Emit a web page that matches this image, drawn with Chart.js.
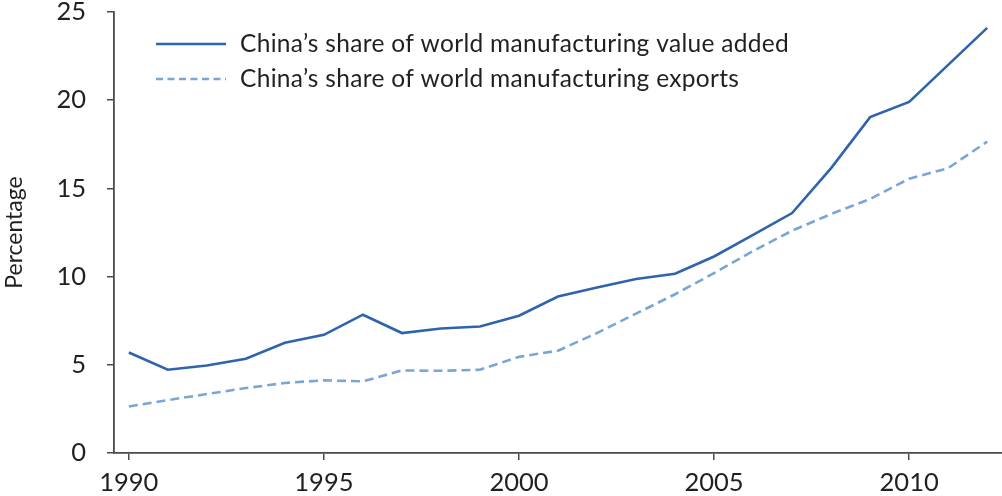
<!DOCTYPE html>
<html>
<head>
<meta charset="utf-8">
<script src="https://cdn.jsdelivr.net/npm/chart.js@4.4.1/dist/chart.umd.min.js"></script>
<style>
  html, body { margin: 0; padding: 0; background: #ffffff; }
  #wrap { position: relative; width: 1002px; height: 496px; }
</style>
</head>
<body>
<div id="wrap"><canvas id="c" width="1002" height="496"></canvas></div>
<script>
const years = [1990, 1991, 1992, 1993, 1994, 1995, 1996, 1997, 1998, 1999, 2000, 2001,
               2002, 2003, 2004, 2005, 2006, 2007, 2008, 2009, 2010, 2011, 2012];
const valueAdded = [5.70, 4.72, 4.96, 5.34, 6.25, 6.70, 7.84, 6.80, 7.06, 7.17, 7.78, 8.87,
                    9.38, 9.86, 10.16, 11.14, 12.37, 13.60, 16.15, 19.04, 19.90, 22.00, 24.10];
const exportsShare = [2.64, 3.00, 3.34, 3.68, 3.97, 4.12, 4.06, 4.68, 4.66, 4.72, 5.45, 5.80,
                      6.80, 7.90, 9.00, 10.20, 11.45, 12.60, 13.55, 14.40, 15.55, 16.15, 17.65];
const seriesLabels = ["China\u2019s share of world manufacturing value added",
                      "China\u2019s share of world manufacturing exports"];
const xTickValues = [1990, 1995, 2000, 2005, 2010];
const yTickValues = [0, 5, 10, 15, 20, 25];
const yAxisTitle = "Percentage";

const FONT = "Lato, 'Liberation Sans', Arial, sans-serif";
const TEXT = "#231f20";
const AXIS = "#4a4a4a";
const SOLID = "#2f64ad";
const DASHED = "#7aa6d6";

const legendPlugin = {
  id: 'insideLegend',
  afterDraw(chart) {
    const ctx = chart.ctx;
    const rows = [44, 79];
    chart.data.datasets.forEach((ds, i) => {
      const y = rows[i];
      ctx.save();
      ctx.strokeStyle = ds.borderColor;
      ctx.lineWidth = ds.borderWidth;
      ctx.setLineDash(i === 1 ? [7, 4.5] : []);
      ctx.beginPath();
      ctx.moveTo(156, y);
      ctx.lineTo(226, y);
      ctx.stroke();
      ctx.setLineDash([]);
      ctx.fillStyle = TEXT;
      ctx.font = "24.5px " + FONT;
      if ('letterSpacing' in ctx) ctx.letterSpacing = '0.3px';
      ctx.textBaseline = 'middle';
      ctx.textAlign = 'left';
      ctx.fillText(ds.label, 240, y);
      ctx.restore();
    });
  }
};

new Chart(document.getElementById('c'), {
  type: 'line',
  data: {
    datasets: [
      {
        label: seriesLabels[0],
        data: years.map((yr, i) => ({ x: yr, y: valueAdded[i] })),
        borderColor: SOLID,
        borderWidth: 2.6,
        pointRadius: 0,
        tension: 0,
        fill: false
      },
      {
        label: seriesLabels[1],
        data: years.map((yr, i) => ({ x: yr, y: exportsShare[i] })),
        borderColor: DASHED,
        borderWidth: 2.6,
        borderDash: [9, 5],
        pointRadius: 0,
        tension: 0,
        fill: false
      }
    ]
  },
  options: {
    responsive: false,
    animation: false,
    devicePixelRatio: 1,
    layout: { padding: { top: 12, right: 0, left: 0, bottom: 0 } },
    plugins: { legend: { display: false }, tooltip: { enabled: false } },
    scales: {
      x: {
        type: 'linear',
        min: 1989.62,
        max: 2012.38,
        afterBuildTicks: s => { s.ticks = xTickValues.map(v => ({ value: v })); },
        afterFit: s => { s.height = 43; s.paddingLeft = 0; s.paddingRight = 0; },
        grid: { display: true, drawOnChartArea: false, drawTicks: true, tickLength: 7, color: AXIS, lineWidth: 1.5 },
        border: { display: true, color: AXIS, width: 1.8 },
        ticks: { color: TEXT, font: { family: FONT, size: 25.5 }, padding: 7, maxRotation: 0,
                 callback: v => String(v) }
      },
      y: {
        type: 'linear',
        min: 0,
        max: 25,
        afterBuildTicks: s => { s.ticks = yTickValues.map(v => ({ value: v })); },
        afterFit: s => { s.width = 114; s.paddingTop = 0; s.paddingBottom = 0; },
        grid: { display: true, drawOnChartArea: false, drawTicks: true, tickLength: 7, color: AXIS, lineWidth: 1.5 },
        border: { display: true, color: AXIS, width: 1.8 },
        ticks: { color: TEXT, font: { family: FONT, size: 25.5 }, padding: 21 },
        title: { display: true, text: yAxisTitle, color: TEXT, font: { family: FONT, size: 23 }, padding: { top: 1, bottom: 0 } }
      }
    }
  },
  plugins: [legendPlugin]
});
</script>
</body>
</html>
